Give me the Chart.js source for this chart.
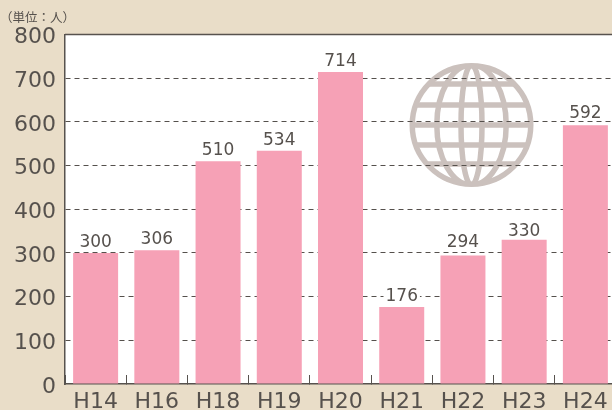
<!DOCTYPE html>
<html>
<head>
<meta charset="utf-8">
<script src="https://cdn.jsdelivr.net/npm/chart.js@4/dist/chart.umd.min.js"></script>
<style>
  html, body { margin: 0; padding: 0; background: #e9ddc8; overflow: hidden; }
  canvas { display: block; }
</style>
</head>
<body>
<canvas id="chartPeople" width="616" height="410"></canvas>
<script>
// -------------------data ---------------------------
const years = ["H14", "H16", "H18", "H19", "H20", "H21", "H22", "H23", "H24"];
const people = [300, 306, 510, 534, 714, 176, 294, 330, 592];
const unitLabel = "（単位：人）";
// value labels do not sit at one height over the bars in the original
const labelNudge = [0, 0, 0, 0, 0, 0, 3, -2, 1];

const textColor = "#56514d";
const axisColor = "#57524e";
const fontFamily = "'DejaVu Sans', sans-serif";

// white plot area and the globe, both sit under the grid lines
const plotBack = {
    id: "plotBack",
    beforeDraw(chart) {
        const { ctx, chartArea: { top, left, width, height } } = chart;
        ctx.save();
        ctx.fillStyle = "white";
        ctx.fillRect(left, top, width, height);

        const cx = 471.5, cy = 125, r = 62;
        ctx.strokeStyle = "#cbc1bd";
        ctx.lineWidth = 5.5;
        ctx.beginPath();
        ctx.arc(cx, cy, r - 2.75, 0, Math.PI * 2);
        ctx.stroke();

        ctx.beginPath();
        ctx.arc(cx, cy, r - 1, 0, Math.PI * 2);
        ctx.clip();
        [10.5, 34.7].forEach((rx) => {
            ctx.beginPath();
            ctx.ellipse(cx, cy, rx, r - 2, 0, 0, Math.PI * 2);
            ctx.stroke();
        });
        ctx.fillStyle = "#cbc1bd";
        [-41, -20, 0, 20, 39].forEach((dy) => {
            ctx.fillRect(cx - r, cy + dy - 2.75, r * 2, 5.5);
        });
        ctx.restore();
    },
};

// top border, value labels and unit text
const barLabels = {
    id: "barLabels",
    afterDatasetsDraw(chart) {
        const { ctx, chartArea: { top, left, right } } = chart;
        ctx.save();
        ctx.strokeStyle = axisColor;
        ctx.lineWidth = 1.5;
        ctx.beginPath();
        ctx.moveTo(left, top);
        ctx.lineTo(right, top);
        ctx.stroke();

        ctx.font = "17px " + fontFamily;
        ctx.textAlign = "center";
        ctx.textBaseline = "alphabetic";
        chart.getDatasetMeta(0).data.forEach((bar, i) => {
            const txt = String(people[i]);
            const w = ctx.measureText(txt).width;
            const y = bar.y - 6 - labelNudge[i];
            ctx.fillStyle = "white";
            ctx.fillRect(bar.x - w / 2 - 2, y - 14, w + 4, 16);
            ctx.fillStyle = textColor;
            ctx.fillText(txt, bar.x, y);
        });

        ctx.font = "12.5px 'Noto Sans CJK JP'";
        ctx.textAlign = "left";
        ctx.fillStyle = "#55504c";
        ctx.fillText(unitLabel, 0, 22);
        ctx.restore();
    },
};

const config = {
    type: "bar",
    data: {
        labels: years,
        datasets: [
            {
                data: people,
                backgroundColor: "#f6a1b6",
                barPercentage: 0.735,
                categoryPercentage: 1,
            },
        ],
    },
    options: {
        responsive: false,
        animation: false,
        layout: { padding: { top: 34.5 } },
        plugins: { legend: { display: false }, tooltip: { enabled: false } },
        scales: {
            x: {
                afterFit(scale) {
                    scale.height = 26;
                    // the last bar runs off the right edge, no room kept for labels
                    scale.paddingLeft = 0;
                    scale.paddingRight = 0;
                },
                border: { color: axisColor, width: 1.5 },
                grid: { drawOnChartArea: false, tickLength: -9, tickColor: axisColor, tickWidth: 1 },
                ticks: { color: textColor, padding: 14, maxRotation: 0, font: { family: fontFamily, size: 22 } },
            },
            y: {
                min: 0,
                max: 800,
                afterFit(scale) { scale.width = 65; },
                border: { color: axisColor, width: 1.5, dash: [5, 4] },
                grid: {
                    drawTicks: false,
                    color: (c) => (c.tick.value === 0 || c.tick.value === 800 ? "transparent" : "#55504c"),
                    lineWidth: 1,
                },
                ticks: { stepSize: 100, color: textColor, padding: 9, labelOffset: 3, font: { family: fontFamily, size: 22 } },
            },
        },
    },
    plugins: [plotBack, barLabels],
};

new Chart(document.getElementById("chartPeople"), config);
</script>
</body>
</html>
